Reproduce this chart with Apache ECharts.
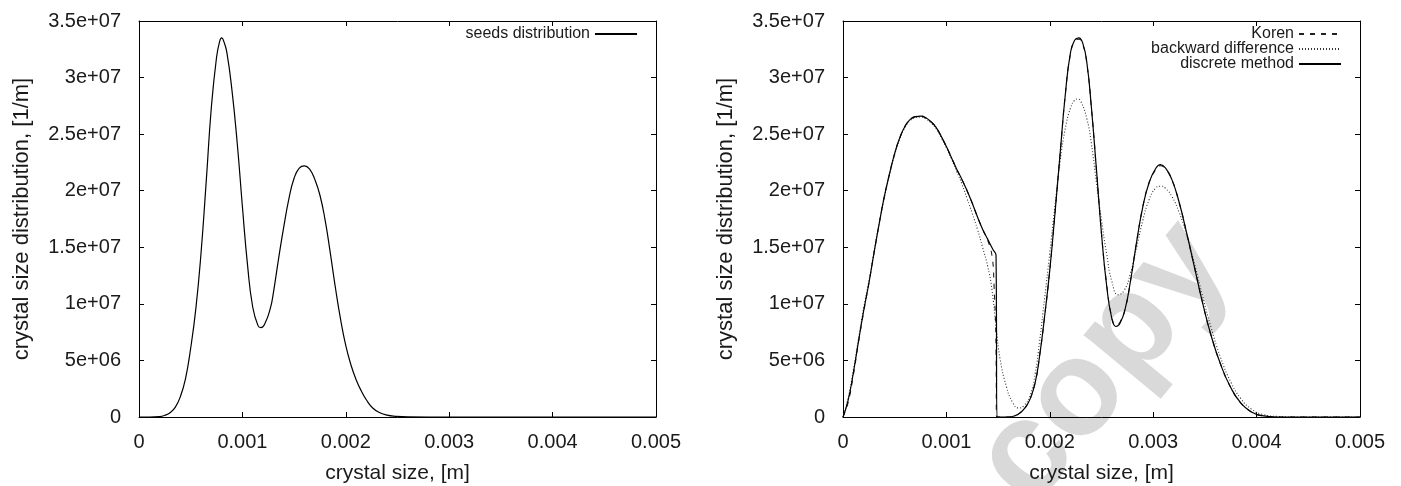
<!DOCTYPE html>
<html>
<head>
<meta charset="utf-8">
<script src="https://cdn.jsdelivr.net/npm/echarts@6/dist/echarts.min.js"></script>
<style>
  html, body { margin: 0; padding: 0; background: #fff; }
  #chart { width: 1401px; height: 486px; }
</style>
</head>
<body>
<div id="chart"></div>
<script>
// tick labels, gnuplot %g style
const xTicks = ['0', '0.001', '0.002', '0.003', '0.004', '0.005']
const yTicks = ['0', '5e+06', '1e+07', '1.5e+07', '2e+07', '2.5e+07', '3e+07', '3.5e+07']

// [crystal size (m), distribution (1/m)]
const seeds = [
  [0, 0], [0.0001, 0], [0.0002, 4e4], [0.00025, 1.5e5], [0.0003, 3.8e5],
  [0.00035, 8.5e5], [0.0004, 1.8e6], [0.00045, 3.4e6], [0.0005, 6.1e6],
  [0.00055, 9.6e6], [0.0006, 1.45e7], [0.00065, 2.08e7], [0.0007, 2.74e7],
  [0.00075, 3.18e7], [0.00078, 3.32e7], [0.0008, 3.35e7], [0.00082, 3.32e7],
  [0.00085, 3.22e7], [0.0009, 2.88e7], [0.00095, 2.42e7], [0.001, 1.86e7],
  [0.00105, 1.34e7], [0.0011, 9.7e6], [0.00115, 8.1e6], [0.00118, 7.9e6],
  [0.00122, 8.3e6], [0.00127, 9.6e6], [0.0013, 1.1e7], [0.00135, 1.4e7],
  [0.0014, 1.68e7], [0.00145, 1.93e7], [0.0015, 2.11e7], [0.00155, 2.2e7],
  [0.0016, 2.22e7], [0.00165, 2.19e7], [0.0017, 2.1e7], [0.00175, 1.96e7],
  [0.0018, 1.74e7], [0.00185, 1.45e7], [0.0019, 1.14e7], [0.00195, 8.6e6],
  [0.002, 6.3e6], [0.00205, 4.6e6], [0.0021, 3.3e6], [0.00215, 2.3e6],
  [0.0022, 1.5e6], [0.00226, 8e5], [0.00233, 3.8e5], [0.0024, 1.6e5],
  [0.00248, 6e4], [0.0026, 1e4], [0.003, 0], [0.005, 0]
]

const discrete = [
  [0, 0], [0.00005, 1.5e6], [0.0001, 3.9e6], [0.00015, 6.7e6], [0.0002, 9.4e6],
  [0.00025, 1.18e7], [0.0003, 1.45e7], [0.00035, 1.71e7], [0.0004, 1.95e7],
  [0.00045, 2.15e7], [0.0005, 2.33e7], [0.00055, 2.47e7], [0.0006, 2.57e7],
  [0.00065, 2.63e7], [0.0007, 2.655e7], [0.00075, 2.66e7], [0.0008, 2.645e7],
  [0.00085, 2.61e7], [0.0009, 2.56e7], [0.00095, 2.48e7], [0.001, 2.39e7],
  [0.00105, 2.29e7], [0.0011, 2.19e7], [0.00115, 2.1e7], [0.0012, 2.0e7],
  [0.00125, 1.89e7], [0.0013, 1.77e7], [0.00135, 1.66e7], [0.0014, 1.57e7],
  [0.00145, 1.48e7], [0.00148, 1.43e7], [0.00149, 0], [0.0016, 0],
  [0.00166, 1e5], [0.00171, 3.5e5], [0.00176, 8e5], [0.00181, 1.6e6],
  [0.00186, 3.1e6], [0.0019, 5.3e6], [0.00195, 8.9e6], [0.002, 1.3e7],
  [0.00205, 1.8e7], [0.0021, 2.33e7], [0.00215, 2.85e7], [0.0022, 3.22e7],
  [0.00224, 3.33e7], [0.00228, 3.35e7], [0.00232, 3.3e7], [0.00236, 3.12e7],
  [0.0024, 2.76e7], [0.00245, 2.2e7], [0.0025, 1.62e7], [0.00255, 1.16e7],
  [0.0026, 8.7e6], [0.00264, 8.0e6], [0.00268, 8.3e6], [0.00273, 9.6e6],
  [0.00278, 1.2e7], [0.00284, 1.55e7], [0.0029, 1.86e7], [0.00296, 2.07e7],
  [0.00302, 2.19e7], [0.00307, 2.23e7], [0.00312, 2.2e7], [0.00318, 2.1e7],
  [0.00325, 1.9e7], [0.00332, 1.64e7], [0.0034, 1.32e7], [0.00348, 1.0e7],
  [0.00356, 7.2e6], [0.00365, 4.7e6], [0.00375, 2.6e6], [0.00385, 1.2e6],
  [0.00395, 4.5e5], [0.00405, 1.2e5], [0.0042, 0], [0.005, 0]
]

const koren = [
  [0, 0], [0.00005, 1.3e6], [0.0001, 3.7e6], [0.00015, 6.6e6], [0.0002, 9.3e6],
  [0.00025, 1.18e7], [0.0003, 1.45e7], [0.00035, 1.71e7], [0.0004, 1.95e7],
  [0.00045, 2.15e7], [0.0005, 2.33e7], [0.00055, 2.47e7], [0.0006, 2.57e7],
  [0.00065, 2.63e7], [0.0007, 2.655e7], [0.00075, 2.66e7], [0.0008, 2.645e7],
  [0.00085, 2.61e7], [0.0009, 2.56e7], [0.00095, 2.48e7], [0.001, 2.39e7],
  [0.00105, 2.29e7], [0.0011, 2.19e7], [0.00115, 2.1e7], [0.0012, 2.0e7],
  [0.00125, 1.89e7], [0.0013, 1.77e7], [0.00135, 1.66e7], [0.0014, 1.56e7],
  [0.00144, 1.43e7], [0.00146, 1.18e7], [0.00148, 6e6], [0.001485, 0],
  [0.0016, 0], [0.00166, 1e5], [0.00171, 3.5e5], [0.00176, 8e5],
  [0.00181, 1.6e6], [0.00186, 3.1e6], [0.0019, 5.3e6], [0.00195, 8.9e6],
  [0.002, 1.3e7], [0.00205, 1.8e7], [0.0021, 2.33e7], [0.00215, 2.85e7],
  [0.0022, 3.21e7], [0.00224, 3.32e7], [0.00228, 3.34e7], [0.00232, 3.29e7],
  [0.00236, 3.11e7], [0.0024, 2.76e7], [0.00245, 2.2e7], [0.0025, 1.62e7],
  [0.00255, 1.17e7], [0.0026, 8.8e6], [0.00264, 8.1e6], [0.00268, 8.4e6],
  [0.00273, 9.6e6], [0.00278, 1.2e7], [0.00284, 1.55e7], [0.0029, 1.86e7],
  [0.00296, 2.07e7], [0.00302, 2.18e7], [0.00307, 2.22e7], [0.00312, 2.19e7],
  [0.00318, 2.1e7], [0.00325, 1.9e7], [0.00332, 1.64e7], [0.0034, 1.32e7],
  [0.00348, 1.0e7], [0.00356, 7.2e6], [0.00365, 4.7e6], [0.00375, 2.6e6],
  [0.00385, 1.2e6], [0.00395, 4.5e5], [0.00405, 1.2e5], [0.0042, 0], [0.005, 0]
]

const backward = [
  [0, 0], [0.00005, 1.7e6], [0.0001, 4.1e6], [0.00015, 6.9e6], [0.0002, 9.6e6],
  [0.00025, 1.2e7], [0.0003, 1.46e7], [0.00035, 1.71e7], [0.0004, 1.94e7],
  [0.00045, 2.14e7], [0.0005, 2.32e7], [0.00055, 2.46e7], [0.0006, 2.56e7],
  [0.00065, 2.62e7], [0.0007, 2.645e7], [0.00075, 2.65e7], [0.0008, 2.635e7],
  [0.00085, 2.6e7], [0.0009, 2.55e7], [0.00095, 2.47e7], [0.001, 2.38e7],
  [0.00105, 2.28e7], [0.0011, 2.17e7], [0.00115, 2.06e7], [0.0012, 1.93e7],
  [0.00125, 1.8e7], [0.0013, 1.66e7], [0.00135, 1.5e7], [0.0014, 1.33e7],
  [0.00144, 1.13e7], [0.00148, 8.0e6], [0.00152, 5.1e6], [0.00158, 2.7e6],
  [0.00164, 1.3e6], [0.0017, 8e5], [0.00175, 1.0e6], [0.00181, 1.9e6],
  [0.00186, 3.9e6], [0.0019, 6.6e6], [0.00195, 1.05e7], [0.002, 1.45e7],
  [0.00205, 1.87e7], [0.0021, 2.26e7], [0.00215, 2.55e7], [0.0022, 2.73e7],
  [0.00224, 2.8e7], [0.00227, 2.81e7], [0.0023, 2.79e7], [0.00236, 2.63e7],
  [0.0024, 2.43e7], [0.00245, 2.08e7], [0.0025, 1.74e7], [0.00255, 1.44e7],
  [0.0026, 1.2e7], [0.00266, 1.08e7], [0.00272, 1.12e7], [0.00278, 1.27e7],
  [0.00284, 1.5e7], [0.0029, 1.74e7], [0.00296, 1.92e7], [0.00302, 2.02e7],
  [0.00307, 2.04e7], [0.00312, 2.02e7], [0.00318, 1.95e7], [0.00325, 1.81e7],
  [0.00332, 1.62e7], [0.0034, 1.35e7], [0.00348, 1.06e7], [0.00356, 7.9e6],
  [0.00365, 5.3e6], [0.00375, 3.1e6], [0.00385, 1.6e6], [0.00395, 7e5],
  [0.00405, 2.5e5], [0.0042, 5e4], [0.0044, 0], [0.005, 0]
]

const font = '"Liberation Sans", Arial, sans-serif'
const ink = '#1a1a1a'

function xAxis(gridIndex, pos) {
  return {
    type: 'value', gridIndex: gridIndex, position: pos,
    min: 0, max: 0.005, interval: 0.001,
    name: pos === 'bottom' ? 'crystal size, [m]' : '',
    nameLocation: 'middle', nameGap: 46,
    nameTextStyle: { fontSize: 21, color: ink, fontFamily: font },
    axisLine: { show: true, onZero: false, lineStyle: { color: '#000', width: 1 } },
    axisTick: { show: true, inside: true, length: 5, lineStyle: { color: '#000' } },
    axisLabel: {
      show: pos === 'bottom', margin: 15, fontSize: 20, color: ink, fontFamily: font,
      formatter: v => xTicks[Math.round(v / 0.001)]
    },
    splitLine: { show: false }
  }
}

function yAxis(gridIndex, pos) {
  return {
    type: 'value', gridIndex: gridIndex, position: pos,
    min: 0, max: 3.5e7, interval: 5e6,
    name: pos === 'left' ? 'crystal size distribution, [1/m]' : '',
    nameLocation: 'middle', nameGap: 106,
    nameTextStyle: { fontSize: 22, color: ink, fontFamily: font },
    axisLine: { show: true, onZero: false, lineStyle: { color: '#000', width: 1 } },
    axisTick: { show: true, inside: true, length: 5, lineStyle: { color: '#000' } },
    axisLabel: {
      show: pos === 'left', margin: 18, fontSize: 20, color: ink, fontFamily: font,
      formatter: v => yTicks[Math.round(v / 5e6)]
    },
    splitLine: { show: false }
  }
}

function curve(name, data, idx, type, color, width, z) {
  return {
    name: name, type: 'line', data: data,
    xAxisIndex: idx, yAxisIndex: idx,
    showSymbol: false, symbol: 'none', smooth: 0.5, z: z,
    lineStyle: { color: color, width: width, type: type },
    itemStyle: { color: color },
    emphasis: { disabled: true }
  }
}

const legendText = { fontSize: 16, color: ink, fontFamily: font, lineHeight: 14 }

let myChart = echarts.init(document.getElementById('chart'))
myChart.setOption({
  animation: false,
  backgroundColor: '#fff',
  grid: [
    { left: 139, top: 21, width: 517, height: 396, containLabel: false, outerBoundsMode: 'none' },
    { left: 843, top: 21, width: 517, height: 396, containLabel: false, outerBoundsMode: 'none' }
  ],
  xAxis: [xAxis(0, 'bottom'), xAxis(0, 'top'), xAxis(1, 'bottom'), xAxis(1, 'top')],
  yAxis: [yAxis(0, 'left'), yAxis(0, 'right'), yAxis(1, 'left'), yAxis(1, 'right')],
  legend: [
    {
      data: ['seeds distribution'], right: 758, top: 21, align: 'right',
      itemWidth: 42, itemHeight: 10, itemStyle: { opacity: 0 },
      textStyle: legendText, selectedMode: false
    },
    {
      data: ['Koren', 'backward difference', 'discrete method'],
      right: 54, top: 21, orient: 'vertical', align: 'right', itemGap: -1,
      itemWidth: 42, itemHeight: 10, itemStyle: { opacity: 0 },
      textStyle: legendText, selectedMode: false
    }
  ],
  graphic: [{
    type: 'text', x: 1104, y: 364, rotation: 0.88, z: 0, silent: true,
    style: {
      text: 'copy', fill: '#d9d9d9', font: 'bold 136px "Liberation Sans", Arial, sans-serif',
      textAlign: 'center', textVerticalAlign: 'middle'
    }
  }],
  series: [
    curve('seeds distribution', seeds, 0, 'solid', '#000', 1.2, 5),
    curve('Koren', koren, 2, [5, 6], '#222', 1.1, 3),
    curve('backward difference', backward, 2, [1, 2], '#333', 1.1, 4),
    curve('discrete method', discrete, 2, 'solid', '#000', 1.2, 5)
  ]
})
</script>
</body>
</html>
